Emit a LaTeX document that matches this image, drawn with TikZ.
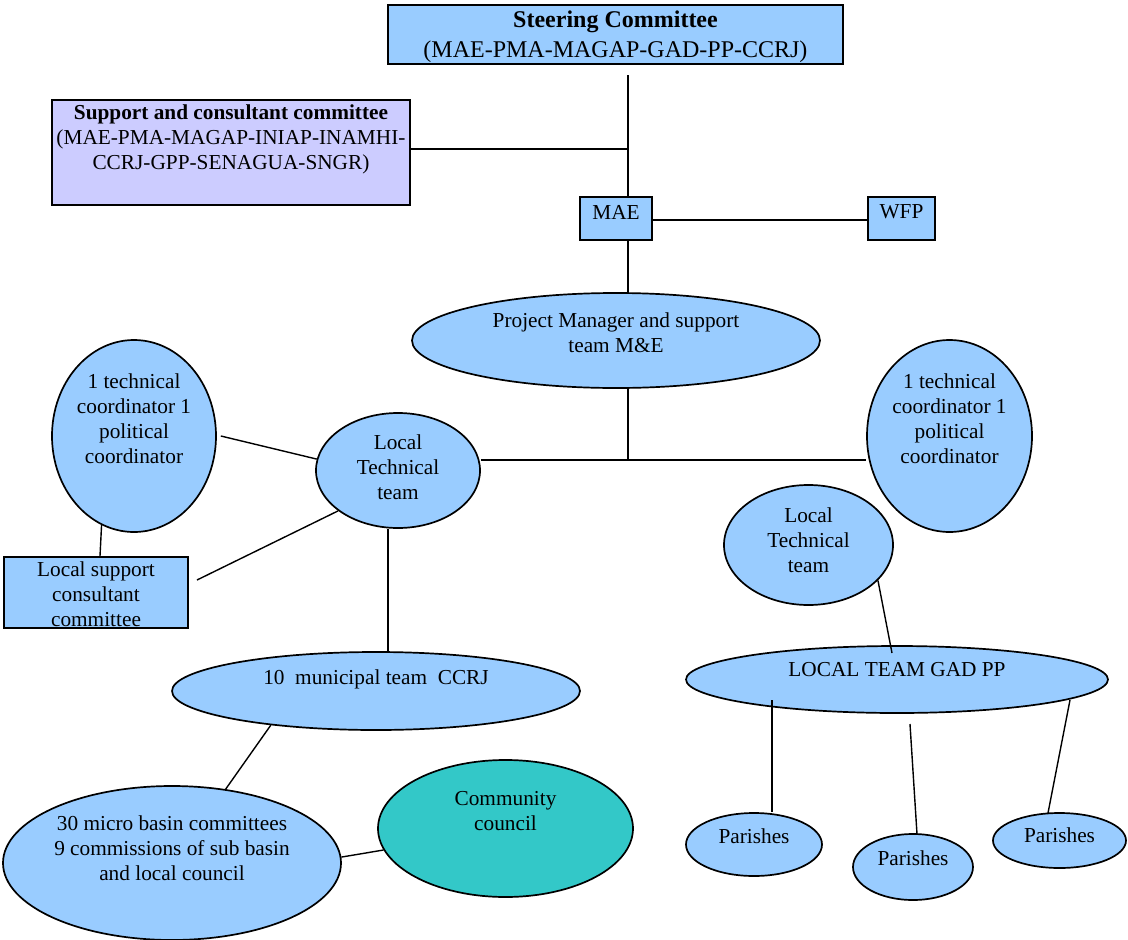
\documentclass[tikz,border=0pt]{standalone}
\usepackage{fontspec}
\setmainfont{Liberation Serif}
\usetikzlibrary{shapes.geometric}
\definecolor{lb}{HTML}{99CCFF}
\definecolor{lav}{HTML}{CCCCFF}
\definecolor{tealc}{HTML}{33C8C8}
\begin{document}
\begin{tikzpicture}[x=1pt,y=-1pt,
  conn/.style={draw=black,line width=1.4pt},
  ell/.style={ellipse,draw=black,line width=1.7pt,fill=lb,inner sep=0pt},
  boxn/.style={rectangle,draw=black,line width=1.7pt,fill=lb,inner sep=0pt},
  txt/.style={align=center,font=\fontsize{21.3}{25}\selectfont,inner sep=0pt},
  big/.style={align=center,font=\fontsize{24}{30}\selectfont,inner sep=0pt}]
\useasboundingbox (0,0) rectangle (1128,940);
% shapes
\node[boxn,minimum width=455pt,minimum height=59pt] (steer) at (615.5,34.5) {};
\node[big] (steert) at (615.5,37) {\textbf{Steering Committee}\\(MAE-PMA-MAGAP-GAD-PP-CCRJ)};
\node[boxn,fill=lav,minimum width=358pt,minimum height=105pt] (sup) at (231,152.5) {};
\node[txt] (supt) at (231,139) {\textbf{Support and consultant committee}\\(MAE-PMA-MAGAP-INIAP-INAMHI-\\CCRJ-GPP-SENAGUA-SNGR)};
\node[boxn,minimum width=72pt,minimum height=43pt] (mae) at (616,218.5) {};
\node[txt] (maet) at (616,212) {MAE};
\node[boxn,minimum width=67pt,minimum height=43pt] (wfp) at (901.5,218.5) {};
\node[txt] (wfpt) at (901.5,212) {WFP};
\node[ell,minimum width=408pt,minimum height=95pt] (pm) at (616,340.5) {};
\node[txt] (pmt) at (616,333) {Project Manager and support\\team M\&E};
\node[ell,minimum width=164pt,minimum height=192pt] (lc) at (134,436) {};
\node[txt] (lct) at (134,419) {1 technical\\coordinator 1\\political\\coordinator};
\node[ell,minimum width=164pt,minimum height=115pt] (ltt) at (398,470.5) {};
\node[txt] (lttt) at (398,467.5) {Local\\Technical\\team};
\node[ell,minimum width=165pt,minimum height=192pt] (rc) at (949.5,436) {};
\node[txt] (rct) at (949.5,419) {1 technical\\coordinator 1\\political\\coordinator};
\node[ell,minimum width=169pt,minimum height=120pt] (rltt) at (808.5,545) {};
\node[txt] (rlttt) at (808.5,540.5) {Local\\Technical\\team};
\node[boxn,minimum width=184pt,minimum height=71pt] (lsc) at (96,592.5) {};
\node[txt] (lsct) at (96,594.5) {Local support\\consultant\\committee};
\node[ell,minimum width=408pt,minimum height=78pt] (muni) at (376,691) {};
\node[txt] (munit) at (376,679) {10\ \ municipal team\ \ CCRJ};
\node[ell,minimum width=422pt,minimum height=67pt] (gad) at (897,679.5) {};
\node[txt] (gadt) at (897,670) {LOCAL TEAM GAD PP};
\node[ell,minimum width=338pt,minimum height=154pt] (micro) at (172,863) {};
\node[txt] (microt) at (172,848) {30 micro basin committees\\9 commissions of sub basin\\and local council};
\node[ell,fill=tealc,minimum width=255pt,minimum height=137pt] (comm) at (505.5,828.5) {};
\node[txt] (commt) at (505.5,811.5) {Community\\council};
\node[ell,minimum width=136pt,minimum height=63pt] (p1) at (754,844.5) {};
\node[txt] (p1t) at (754,836) {Parishes};
\node[ell,minimum width=120pt,minimum height=66pt] (p2) at (913,867) {};
\node[txt] (p2t) at (913,858) {Parishes};
\node[ell,minimum width=133pt,minimum height=55pt] (p3) at (1059.5,840.5) {};
\node[txt] (p3t) at (1059.5,835) {Parishes};
% connector points
\coordinate (sb) at (628,75);
\coordinate (j1) at (628,149);
\coordinate (j2) at (628,460);
\coordinate (mw) at (652,220);
\coordinate (lsce) at (197,580);
\coordinate (g1) at (892,653);
\coordinate (g2) at (772,700);
\coordinate (g3) at (910,724);
\coordinate (g4) at (1070,700);
\coordinate (p2top) at (917,834);
\coordinate (p3top) at (1048,813);
% connectors
\draw[conn] (sb) -- (sb |- mae.north);
\draw[conn] (sup.east |- j1) -- (j1);
\draw[conn] (mw) -- (wfp.west |- mw);
\draw[conn] (sb |- mae.south) -- (sb |- pm.north);
\draw[conn] (sb |- pm.south) -- (j2);
\draw[conn] (ltt.east |- j2) -- (rc.west |- j2);
\draw[conn] ([xshift=4pt]lc.east) -- (ltt.172);
\draw[conn] (lc.250) -- ([xshift=4pt]lsc.north);
\draw[conn] (lsce) -- (ltt.214);
\draw[conn] ([xshift=-10pt]ltt.south) -- ([xshift=-10pt]ltt.south |- muni.north);
\draw[conn] (muni.198) -- (micro.54.5);
\draw[conn] (micro.2) -- (comm.190);
\draw[conn] (rltt.-27) -- (g1);
\draw[conn] (g2) -- (g2 |- p1.north);
\draw[conn] (g3) -- (p2top);
\draw[conn] (g4) -- (p3top);
\end{tikzpicture}
\end{document}
